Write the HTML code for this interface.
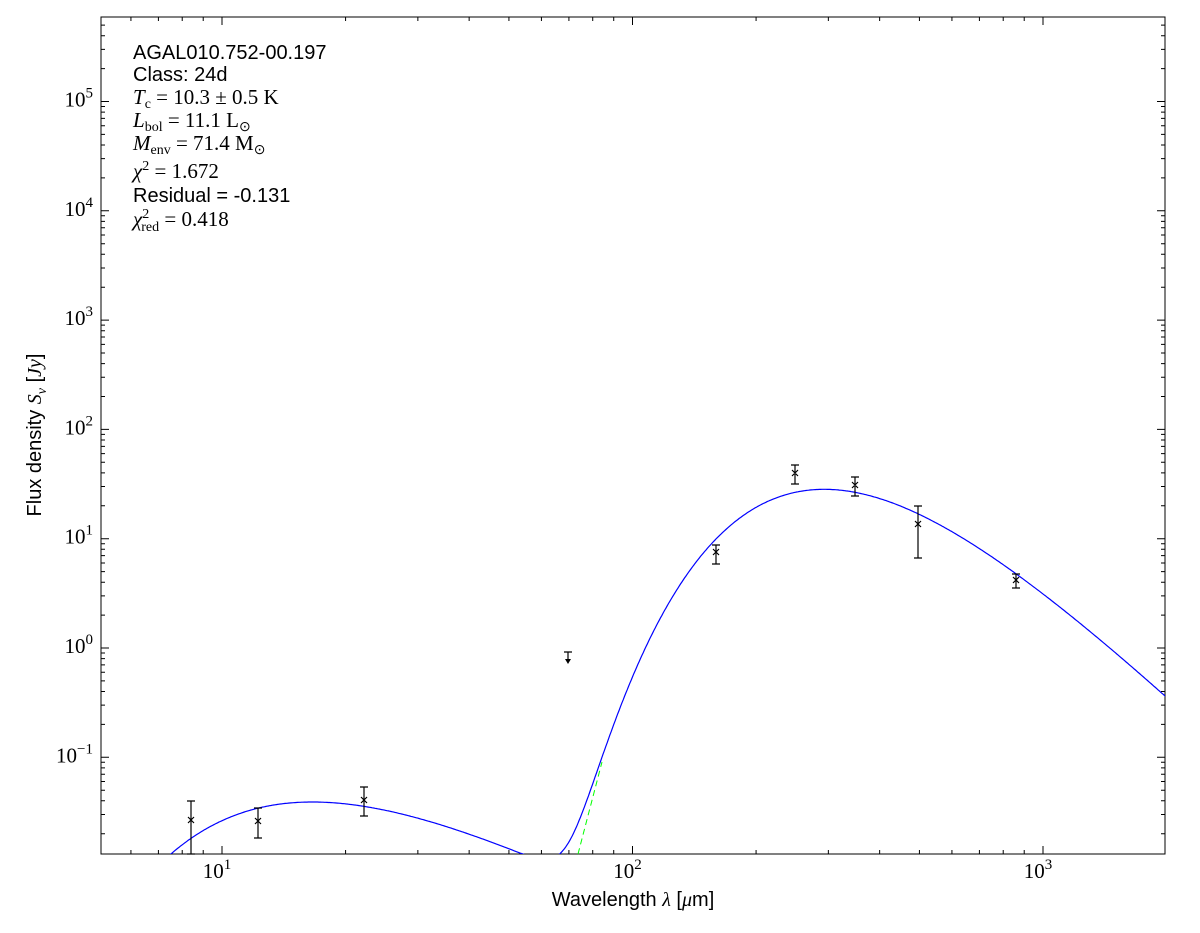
<!DOCTYPE html>
<html><head><meta charset="utf-8"><style>
body{margin:0;background:#fff;width:1200px;height:933px;overflow:hidden}
svg{display:block}
text{font-family:"Liberation Serif",serif;fill:#000}
.s{font-family:"Liberation Sans",sans-serif}
</style></head><body>
<svg id="g" width="1200" height="933" xmlns="http://www.w3.org/2000/svg">
<rect x="101" y="17" width="1064" height="837" fill="none" stroke="#000" stroke-width="1"/>
<g id="ticks" stroke="#000" stroke-width="1"></g>
<g id="curves"></g>
<g id="lbl" font-size="21"></g>
<text class="s" x="633" y="906" font-size="20" text-anchor="middle">Wavelength <tspan font-family="Liberation Serif" font-style="italic">λ</tspan> [<tspan font-family="Liberation Serif" font-style="italic">μ</tspan>m]</text>
<text class="s" transform="translate(41,435) rotate(-90)" font-size="20" text-anchor="middle">Flux density <tspan font-family="Liberation Serif" font-style="italic">S</tspan><tspan font-family="Liberation Serif" font-style="italic" font-size="14" dy="5">ν</tspan><tspan dy="-5"> [</tspan><tspan font-family="Liberation Serif" font-style="italic">Jy</tspan>]</text>
<g font-size="21">
<text class="s" x="133" y="59" font-size="20">AGAL010.752-00.197</text>
<text class="s" x="133" y="81" font-size="20">Class: 24d</text>
<text x="133" y="104"><tspan font-style="italic">T</tspan><tspan font-size="14" dy="4">c</tspan><tspan dy="-4"> = 10.3 ± 0.5 K</tspan></text>
<text x="133" y="127"><tspan font-style="italic">L</tspan><tspan font-size="14" dy="4">bol</tspan><tspan dy="-4"> = 11.1 L</tspan><tspan font-size="14" dy="4">⊙</tspan></text>
<text x="133" y="150"><tspan font-style="italic">M</tspan><tspan font-size="14" dy="4">env</tspan><tspan dy="-4"> = 71.4 M</tspan><tspan font-size="14" dy="4">⊙</tspan></text>
<text x="133" y="178"><tspan font-style="italic">χ</tspan><tspan font-size="14" dy="-8">2</tspan><tspan dy="8"> = 1.672</tspan></text>
<text class="s" x="133" y="202" font-size="20">Residual = -0.131</text>
<text x="133" y="226"><tspan font-style="italic">χ</tspan><tspan font-size="14" dy="-8">2</tspan><tspan font-size="14" dx="-8" dy="13">red</tspan><tspan dy="-5"> = 0.418</tspan></text>
</g>
</svg>
<script>
var NS="http://www.w3.org/2000/svg";
function X(l){return 222+410.5*(Math.log10(l)-1);}
function Y(f){return 648-109.3*Math.log10(f);}
function el(p,t,a){var e=document.createElementNS(NS,t);for(var k in a)e.setAttribute(k,a[k]);p.appendChild(e);return e;}
var T=document.getElementById('ticks'),L=document.getElementById('lbl'),C=document.getElementById('curves');
var d="";
for(var e=0;e<=3;e++)for(var m=1;m<10;m++){var x=X(m*Math.pow(10,e));if(x<101||x>1165)continue;var len=m==1?8:4;d+="M"+x+" 854v-"+len+"M"+x+" 17v"+len;}
for(var e=-2;e<=5;e++)for(var m=1;m<10;m++){var y=Y(m*Math.pow(10,e));if(y<17||y>854)continue;var len=m==1?8:4;d+="M101 "+y+"h"+len+"M1165 "+y+"h-"+len;}
el(T,'path',{d:d,fill:'none'});
function sup(x,y,b,p,anchor){var t=el(L,'text',{x:x,y:y,'text-anchor':anchor});t.innerHTML=b+'<tspan font-size="15" dy="-9">'+p+'</tspan>';}
[[1,'1'],[2,'2'],[3,'3']].forEach(function(a){sup(X(Math.pow(10,a[0]))-5,878,'10',a[1],'middle');});
for(var e=-1;e<=5;e++){sup(93,Y(Math.pow(10,e))+5,'10',e==-1?'−1':String(e),'end');}
function mk(peakL,peakF,p){var xs,best=0,bx=1;for(var x=0.5;x<10;x+=0.001){var v=Math.pow(x,p)/(Math.exp(x)-1);if(v>best){best=v;bx=x;}}
return function(l){var x=bx*peakL/l;return peakF*(Math.pow(x,p)/(Math.exp(x)-1))/best;};}
var warm=mk(16.6,0.039,3), cold=mk(293,28.3,4.72);
var cp=document.createElementNS(NS,'clipPath');cp.id='c';el(cp,'rect',{x:101,y:17,width:1064,height:837});document.querySelector('svg').appendChild(cp);
var pts=[];for(var i=0;i<=800;i++){var lg=0.7+i*(3.3-0.7)/800,l=Math.pow(10,lg);var f=warm(l)+cold(l);pts.push(X(l).toFixed(1)+","+Math.min(Y(f),2000).toFixed(1));}
el(C,'polyline',{points:pts.join(" "),fill:'none',stroke:'#0000ff','stroke-width':1.2,'clip-path':'url(#c)'});
el(C,'line',{x1:578,y1:854,x2:602,y2:762,stroke:'#00ff00','stroke-width':1,'stroke-dasharray':'6,4'});
var data=[[191,820,801,854],[258,821,808,838],[364,800,787,816],[716,552,545,564],[795,473,465,484],[855,485,477,496],[918,524,506,558],[1016,580,574,588]];
var dd="";data.forEach(function(p){dd+="M"+p[0]+" "+p[2]+"V"+p[3]+"M"+(p[0]-4)+" "+p[2]+"h8M"+(p[0]-4)+" "+p[3]+"h8M"+(p[0]-3)+" "+(p[1]-3)+"l6 6M"+(p[0]-3)+" "+(p[1]+3)+"l6 -6";});
dd+="M568 652V662M564 652h8";
el(C,'path',{d:dd,fill:'none',stroke:'#000','stroke-width':1.2});
el(C,'path',{d:"M565 659L571 659L568 664Z",fill:'#000'});
</script>
</body></html>
